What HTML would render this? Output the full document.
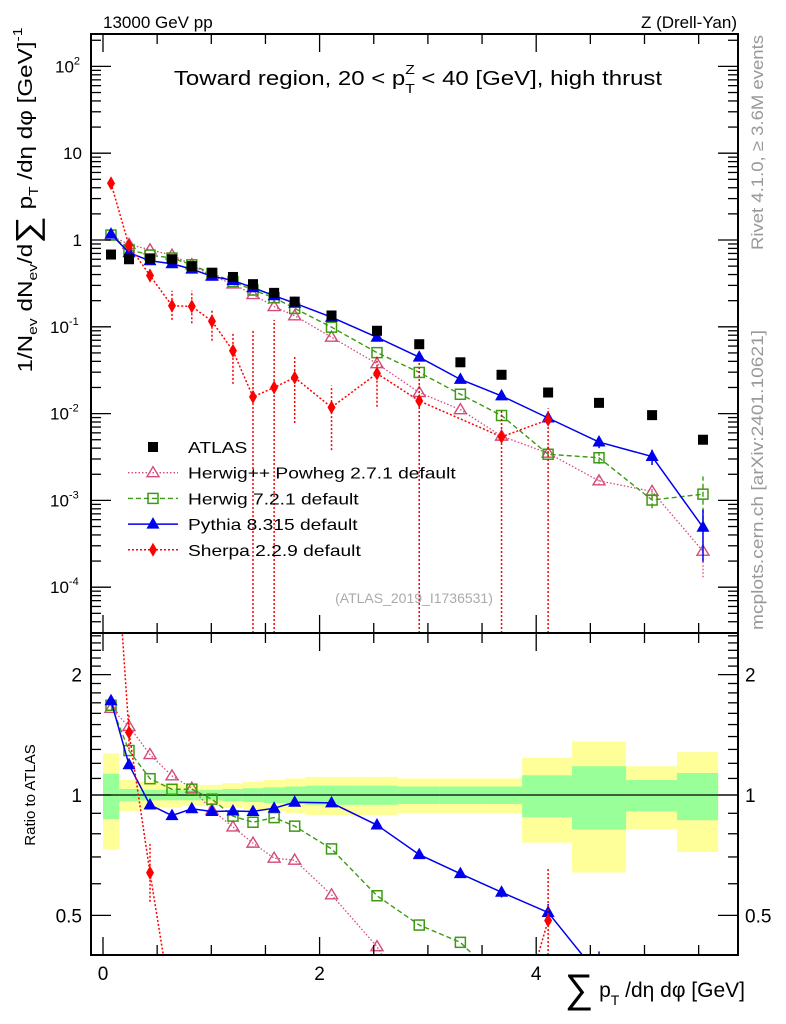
<!DOCTYPE html>
<html><head><meta charset="utf-8"><style>
html,body{margin:0;background:#fff;overflow:hidden;width:786px;height:1024px;}
svg{font-family:"Liberation Sans",sans-serif;display:block;}
</style></head><body>
<svg id="c" width="786" height="1024" viewBox="0 0 786 1024" xmlns="http://www.w3.org/2000/svg">
<defs>
<clipPath id="cm"><rect x="91" y="34" width="647" height="599"/></clipPath>
<clipPath id="cr"><rect x="91" y="633" width="647" height="322"/></clipPath>
</defs>
<g id="bands" clip-path="url(#cr)"></g>
<g id="marks"></g>
<text x="103" y="28" font-size="17">13000 GeV pp</text>
<text x="737" y="28" font-size="17" text-anchor="end">Z (Drell-Yan)</text>
<g transform="translate(418,85) scale(1.2,1)">
<text x="0" y="0" font-size="20" text-anchor="middle">Toward region, 20 &lt; p<tspan font-size="13" dy="8">T</tspan><tspan font-size="13" dx="-8" dy="-19">Z</tspan><tspan dy="11"> &lt; 40 [GeV], high thrust</tspan></text>
</g>
<text transform="translate(763,250) rotate(-90)" font-size="17" fill="#999" textLength="215" lengthAdjust="spacingAndGlyphs">Rivet 4.1.0, ≥ 3.6M events</text>
<text transform="translate(763,630) rotate(-90)" font-size="17" fill="#999" textLength="300" lengthAdjust="spacingAndGlyphs">mcplots.cern.ch [arXiv:2401.10621]</text>
<text x="414" y="603" font-size="14" fill="#aaa" text-anchor="middle">(ATLAS_2019_I1736531)</text>
<text transform="translate(32,200) rotate(-90)" font-size="20" text-anchor="middle" textLength="345" lengthAdjust="spacingAndGlyphs">1/N<tspan font-size="13" dy="5">ev</tspan><tspan dy="-5"> dN</tspan><tspan font-size="13" dy="5">ev</tspan><tspan dy="-5">/d</tspan><tspan font-size="32" dy="6">∑</tspan><tspan dy="-6"> p</tspan><tspan font-size="13" dy="6">T</tspan><tspan dy="-6"> /dη dφ  [GeV]</tspan><tspan font-size="13" dy="-10">-1</tspan></text>
<text transform="translate(35,795) rotate(-90)" font-size="15" text-anchor="middle">Ratio to ATLAS</text>
<text x="745" y="997" font-size="21" text-anchor="end"><tspan font-size="40" dy="5">∑</tspan><tspan dy="-5"> p</tspan><tspan font-size="14" dy="8">T</tspan><tspan dy="-8"> /dη dφ [GeV]</tspan></text>
<g id="legend"></g>
<g id="axes"></g>
</svg>
<script>
const xs=[0.074,0.24,0.434,0.637,0.82,1.006,1.2,1.385,1.58,1.77,2.11,2.53,2.92,3.30,3.68,4.11,4.58,5.07,5.54];
const edges=[0,0.15,0.33,0.53,0.73,0.92,1.1,1.29,1.48,1.68,1.87,2.34,2.72,3.11,3.5,3.87,4.33,4.83,5.3,5.68];
const atlas=[0.68,0.6,0.61,0.6,0.5,0.42,0.375,0.31,0.246,0.195,0.135,0.09,0.063,0.039,0.028,0.0175,0.0133,0.0096,0.0050];
const bandTot=[0.27,0.09,0.08,0.07,0.06,0.06,0.07,0.08,0.09,0.10,0.11,0.11,0.10,0.10,0.10,0.24,0.36,0.18,0.28];
const bandStat=[0.13,0.035,0.03,0.03,0.03,0.03,0.035,0.04,0.045,0.05,0.055,0.055,0.05,0.05,0.05,0.12,0.18,0.09,0.135];
const herwigpp=[1.12,0.89,0.77,0.67,0.52,0.385,0.312,0.235,0.171,0.134,0.076,0.0376,0.0175,0.0111,0.0055,0.0035,0.00168,0.00127,0.00026];
const herwig7=[1.14,0.775,0.67,0.62,0.517,0.41,0.332,0.265,0.216,0.163,0.099,0.0504,0.0298,0.0167,0.0095,0.0034,0.0031,0.00101,0.00118];
const pythia=[1.17,0.714,0.576,0.533,0.462,0.382,0.342,0.282,0.228,0.187,0.129,0.0757,0.0447,0.0248,0.016,0.0089,0.0047,0.0032,0.00049];
const sherpa=[4.5,0.86,0.39,0.175,0.172,0.116,0.053,0.0156,0.02,0.026,0.0118,0.029,0.014,null,0.0054,0.0085,null,null,null];
const sherpaLo=[4.2,0.78,0.33,0.12,0.11,0.069,0.022,0,0,0.0078,0.0038,0.012,0,null,0,0,null,null,null];
const sherpaHi=[4.8,0.95,0.46,0.26,0.26,0.16,0.085,0.09,0.12,0.047,0.021,0.047,0.04,null,0.011,0.0115,null,null,null];
const relErrMC=[0,0,0,0,0,0,0,0,0,0,0,0,0,0,0.03,0.05,0.15,0.2,0.6];
const herwigppErr=[0,0,0,0,0,0,0,0,0,0,0,0,0,0,0,0,0.1,0.15,0.5];
const mainTicks=[100,10,1,0.1,0.01,0.001,0.0001];
const mainTickLabels=["10|2","10","1","10|-1","10|-2","10|-3","10|-4"];
const ratioTicks=[2,1,0.5];
const ratioTickLabels=["2","1","0.5"];
const xTicks=[0,2,4];
const xTickLabels=["0","2","4"];

const NS="http://www.w3.org/2000/svg";
const X=v=>103+v*108.3;
const Y=v=>240-86.8*Math.log10(v);
const R=v=>795-400*Math.log10(v);
function el(t,a,p){const e=document.createElementNS(NS,t);for(const k in a)e.setAttribute(k,a[k]);(p||document.getElementById('marks')).appendChild(e);return e;}
const marks=document.getElementById('marks');
const gm=el('g',{'clip-path':'url(#cm)'},marks);


const gr=el('g',{'clip-path':'url(#cr)'},marks);


const bands=document.getElementById('bands');
for(let i=0;i<xs.length;i++){
  const x0=X(edges[i]),x1=X(edges[i+1]);
  const r1=el('rect',{x:x0,y:R(1+bandTot[i]),width:x1-x0,height:R(1-bandTot[i])-R(1+bandTot[i]),fill:'#ffff99'},bands);
  
  
}
for(let i=0;i<xs.length;i++){
  const x0=X(edges[i]),x1=X(edges[i+1]);
  const r2=el('rect',{x:x0,y:R(1+bandStat[i]),width:x1-x0,height:R(1-bandStat[i])-R(1+bandStat[i]),fill:'#99ff99'},bands);
  
  
}
const one=el('line',{x1:91,x2:738,y1:R(1),y2:R(1),stroke:'#000','stroke-width':1.2},gr);



function marker(g,type,x,y,color){
  let m;
  if(type==='sq') m=el('rect',{x:x-5,y:y-5,width:10,height:10,fill:'#000'},g);
  else if(type==='osq') m=el('rect',{x:x-5,y:y-5,width:10,height:10,fill:'none',stroke:color,'stroke-width':1.5},g);
  else if(type==='otri') m=el('path',{d:`M${x},${y-6}L${x+6},${y+4}L${x-6},${y+4}Z`,fill:'none',stroke:color,'stroke-width':1.4},g);
  else if(type==='tri') m=el('path',{d:`M${x},${y-7}L${x+6.5},${y+4.5}L${x-6.5},${y+4.5}Z`,fill:color},g);
  else m=el('path',{d:`M${x},${y-7}L${x+4},${y}L${x},${y+7}L${x-4},${y}Z`,fill:color},g);
  return m;
}
let err0;
function series(name,vals,type,color,dash,width,err,ratioErr){
  const gmain=el('g',{},gm);
  
  
  const grat=el('g',{},gr);
  
  
  let p1=[],p2=[];
  vals.forEach((v,i)=>{if(v!=null){p1.push(X(xs[i])+','+Y(v));p2.push(X(xs[i])+','+R(v/atlas[i]));}});
  const l1=el('polyline',{points:p1.join(' '),fill:'none',stroke:color,'stroke-width':width,'stroke-dasharray':dash},gmain);
  
  
  const l2=el('polyline',{points:p2.join(' '),fill:'none',stroke:color,'stroke-width':width,'stroke-dasharray':dash},grat);
  
  
  vals.forEach((v,i)=>{
    if(v==null)return;
    const x=X(xs[i]);
    let lo,hi;
    if(err){lo=err.lo[i];hi=err.hi[i];}else{lo=v*(1-err0[i]);hi=v*(1+err0[i]);}
    function eb(g,f,bottom){
      const yl=lo>0?Math.min(f(lo),bottom):bottom, yh=f(hi);
      if(Math.abs(yl-yh)>2){
        const e=el('line',{x1:x,x2:x,y1:yl,y2:yh,stroke:color,'stroke-width':width,'stroke-dasharray':dash},g);
        
        
      }
    }
    eb(gmain,Y,633);
    if(ratioErr===undefined || ratioErr(v/atlas[i])) eb(grat,u=>R(u/atlas[i]),955);
    const m=marker(gmain,type,x,Y(v),color);
    
    
    const m2=marker(grat,type,x,R(v/atlas[i]),color);
    
    
  });
}
err0=herwigppErr;
series('herwigpp',herwigpp,'otri','#d44a7a','1.5,2',1.3);
err0=relErrMC;
series('herwig7',herwig7,'osq','#3c9a14','5,3',1.4);
series('pythia',pythia,'tri','#0000ee','',1.5);
series('sherpa',sherpa,'dia','#ff0000','2,2',1.5,{lo:sherpaLo,hi:sherpaHi},r=>r>0.4);
atlas.forEach((v,i)=>{
  const m=marker(gm,'sq',X(xs[i]),Y(v),'#000');
  
  
});

const ax=document.getElementById('axes');
function ln(x1,y1,x2,y2,w,name){const l=el('line',{x1,y1,x2,y2,stroke:'#000','stroke-width':w||1},ax);return l;}
const f1=el('rect',{x:91,y:34,width:647,height:599,fill:'none',stroke:'#000','stroke-width':2},ax);


const f2=el('rect',{x:91,y:633,width:647,height:322,fill:'none',stroke:'#000','stroke-width':2},ax);


for(let v=0;v<=5.8;v+=0.5){
  const x=X(v),big=Math.abs(v-Math.round(v/2)*2)<0.01;
  const L=big?18:10;
  [[34,1],[633,-1],[633,1],[955,-1]].forEach(([y,d])=>ln(x,y,x,y+d*L,1.3,'x-tick'));
}
xTicks.forEach((v,i)=>{const t=el('text',{x:X(v),y:980,'font-size':19,'text-anchor':'middle'},ax);t.textContent=xTickLabels[i];});
for(let d=-5;d<=2;d++){for(let k=1;k<10;k++){const v=k*Math.pow(10,d);const y=Y(v);if(y<35||y>632)continue;const L=k==1?20:10;ln(91,y,91+L,y,1.3,'y-tick');ln(738,y,738-L,y,1.3,'y-tick');}}
mainTickLabels.forEach((s,i)=>{const y=Y(mainTicks[i]);const p=s.split('|');const t=el('text',{x:p.length>1?70:82,y:y+6,'font-size':17,'text-anchor':'end'},ax);t.textContent=p[0];if(p.length>1){const ts=document.createElementNS(NS,'tspan');ts.setAttribute('font-size','11');ts.setAttribute('dy','-8');ts.textContent=p[1];t.appendChild(ts);t.setAttribute('text-anchor','start');t.setAttribute('x',p[1].length>1?50:55);}});
const rminor=[0.4,0.5,0.6,0.7,0.8,0.9,1,1.1,1.2,1.3,1.4,1.5,1.6,1.7,1.8,1.9,2,2.1,2.2,2.3,2.4,2.5];
rminor.forEach(v=>{const y=R(v);if(y<634||y>954)return;const big=ratioTicks.includes(v);const L=big?20:10;ln(91,y,91+L,y,1.3,'ratio-tick');ln(738,y,738-L,y,1.3,'ratio-tick');});
ratioTicks.forEach((v,i)=>{const y=R(v)+7;[[82,'end'],[745,'start']].forEach(([x,a])=>{const t=el('text',{x,y,'font-size':19,'text-anchor':a},ax);t.textContent=ratioTickLabels[i];});});

const lg=document.getElementById('legend');
const ent=[['ATLAS','sq','#000','',1],['Herwig++ Powheg 2.7.1 default','otri','#d44a7a','1.5,2',1.3],['Herwig 7.2.1 default','osq','#3c9a14','5,3',1.4],['Pythia 8.315 default','tri','#0000ee','',1.5],['Sherpa 2.2.9 default','dia','#ff0000','2,2',1.5]];
ent.forEach((e,i)=>{const y=447+i*25.7;const g=el('g',{},lg);
 if(i>0){const l=el('line',{x1:128,x2:178,y1:y,y2:y,stroke:e[2],'stroke-width':e[4],'stroke-dasharray':e[3]},g);}
 const m=marker(g,e[1],153,y,e[2]);
 const tg=el('g',{transform:`translate(188,${y+6}) scale(1.2,1)`},g);
 const t=el('text',{x:0,y:0,'font-size':16},tg);t.textContent=e[0];});
</script>
</body></html>
